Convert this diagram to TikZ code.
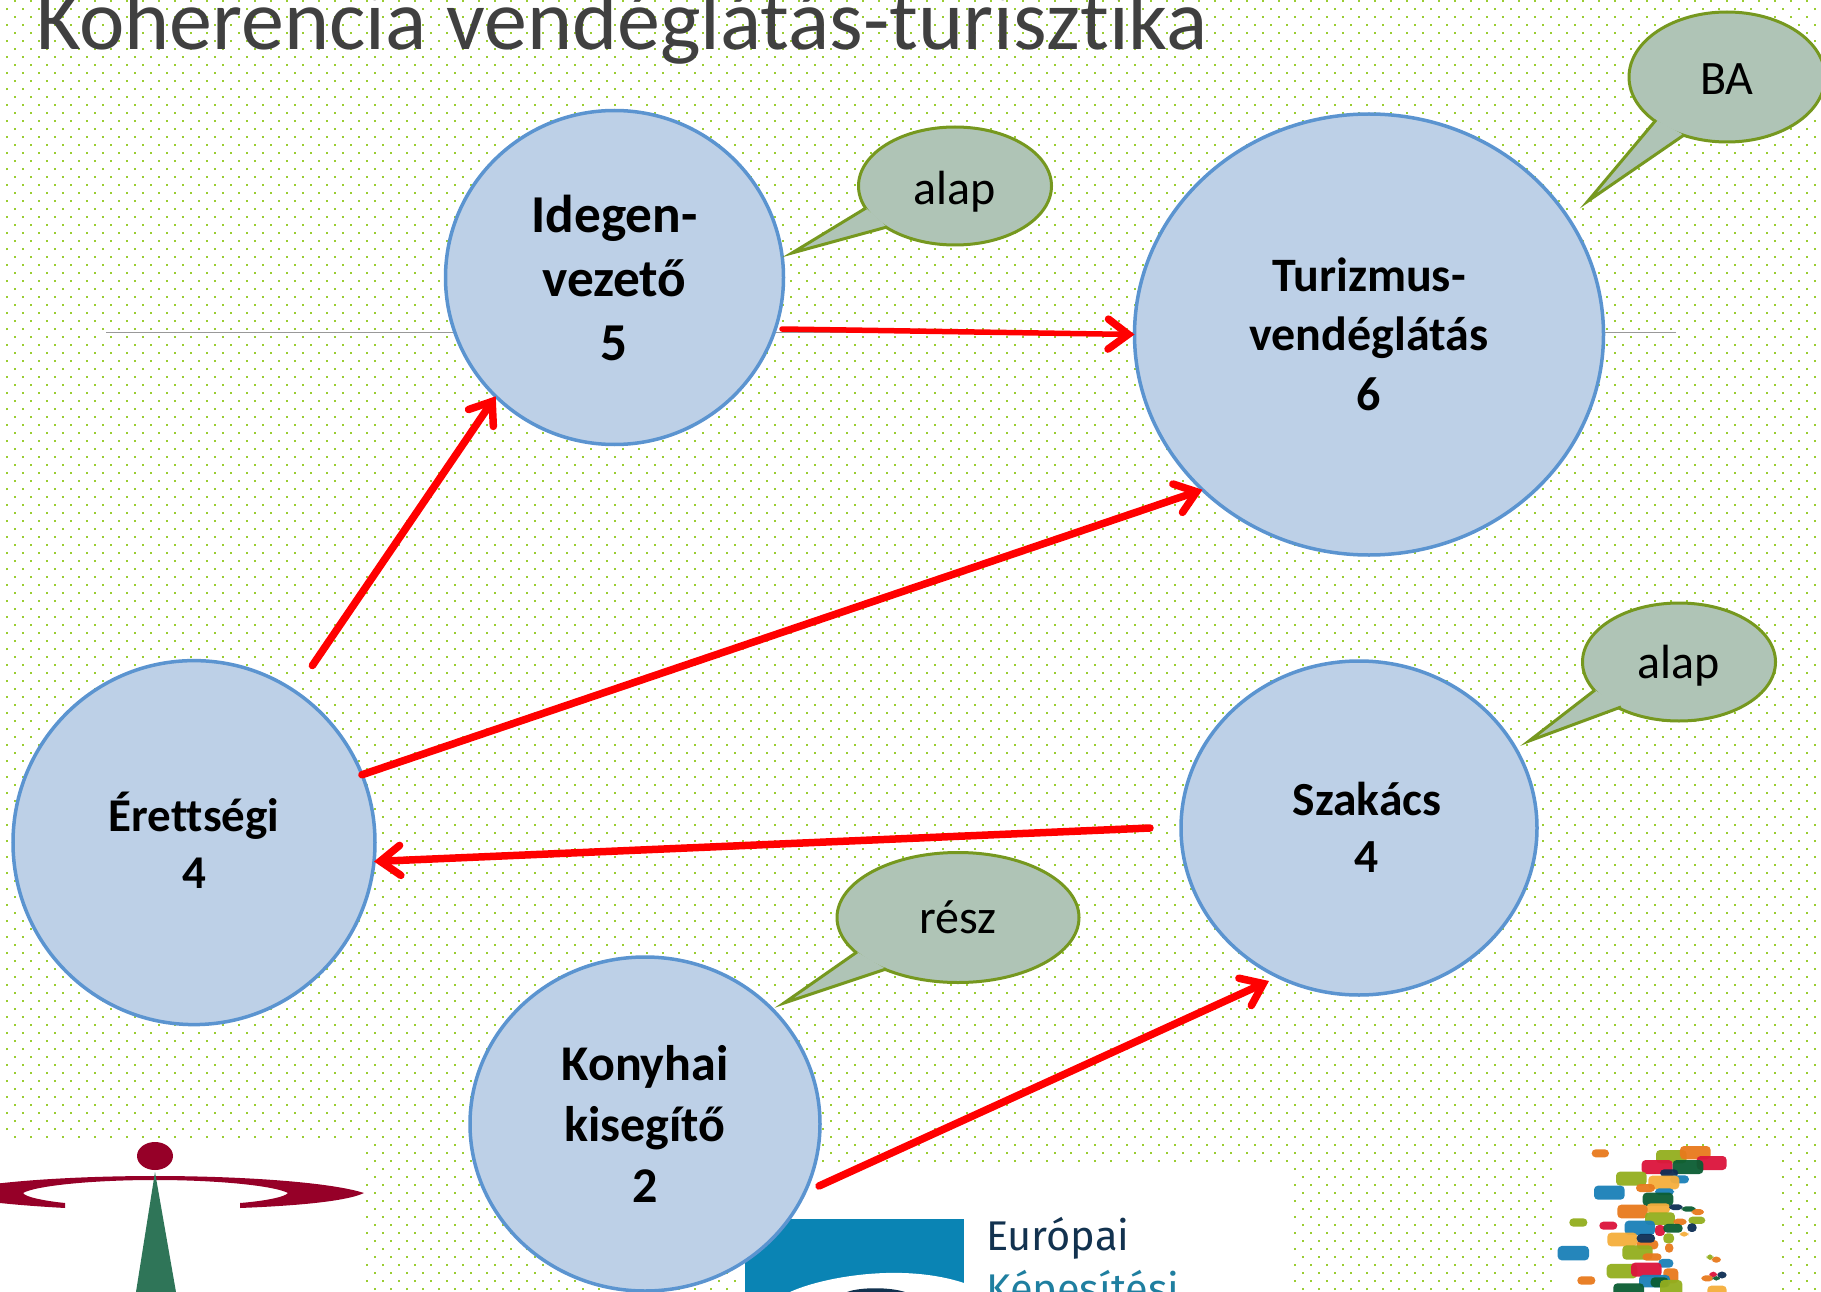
\documentclass[tikz,border=0pt]{standalone}
\usepackage{fontspec}
\setmainfont{Carlito}[Ligatures=NoCommon]
\newfontfamily\logofont{Fira Sans}
\usetikzlibrary{arrows.meta,shapes.geometric}
\definecolor{dotc}{HTML}{9ACD32}
\definecolor{circf}{HTML}{BDD0E7}
\definecolor{circd}{HTML}{5B94D0}
\definecolor{callf}{HTML}{AFC4B6}
\definecolor{calld}{HTML}{76981F}
\definecolor{lgo}{HTML}{E87A1D}
\definecolor{lgl}{HTML}{93AE1E}
\definecolor{lgr}{HTML}{DC143C}
\definecolor{lgg}{HTML}{0B5D33}
\definecolor{lgn}{HTML}{0E2F55}
\definecolor{lgb}{HTML}{1A80B8}
\definecolor{lgy}{HTML}{F5AE3C}
\definecolor{crimson}{RGB}{150,0,40}
\definecolor{pine}{RGB}{47,117,88}
\definecolor{eqfblue}{RGB}{10,132,180}
\definecolor{eqfnavy}{RGB}{18,50,79}
\definecolor{eqfteal}{RGB}{31,127,160}
\tikzset{
  level/.style={ellipse,draw=circd,fill=circf,line width=3.5pt,inner sep=0pt,outer sep=0pt,align=center,text=black},
  call/.style={ellipse,draw=calld,fill=callf,line width=3pt,inner sep=0pt,outer sep=0pt,text=black,font=\fontsize{48pt}{50pt}\selectfont},
  tailfill/.style={fill=callf},
  tailline/.style={draw=calld,line width=3pt,line join=miter},
  link/.style={draw=red,line width=7.5pt,line cap=round,-{Straight Barb[length=20pt,width=30pt,line width=7.5pt,line cap=round,line join=miter]}},
}
\newcommand{\lgbar}[5]{\fill[#5,opacity=.95,rounded corners=4pt] (#1,#2) rectangle (#3,#4);}
\newcommand{\calltail}[3]{%
  \fill[tailfill] (#1) -- (#3) -- (#2) -- cycle;
  \draw[tailline] (#1) -- (#3) -- (#2);}
\newcommand{\nudge}[2]{\raisebox{#1}[\height][\depth]{#2}}
% dot raster built from rules
\newsavebox\dotrowbox
\def\dotA{\rule{2pt}{2pt}\kern14pt}
\def\dotB{\dotA\dotA\dotA\dotA}
\def\dotC{\dotB\dotB\dotB\dotB}
\def\dotD{\dotC\dotC\dotC\dotC\dotC\dotC\dotC\dotC}
\sbox\dotrowbox{\color{dotc}\dotD}
\def\rowP{\hbox{\kern14pt\usebox\dotrowbox}\vskip6pt\hbox{\kern6pt\usebox\dotrowbox}\vskip6pt}
\def\rowQ{\rowP\rowP\rowP\rowP}
\def\rowR{\rowQ\rowQ\rowQ\rowQ}
\def\rowS{\rowR\rowR\rowR\rowR\rowR\rowR}
\begin{document}
\begin{tikzpicture}[x=1pt,y=-1pt]
\useasboundingbox (0,0) rectangle (1821,1292);
\clip (0,0) rectangle (1821,1292);
\fill[white] (0,0) rectangle (1821,1292);
% dot background
\node[anchor=north west,inner sep=0pt,outer sep=0pt] (dotgrid) at (0,0) {\vbox{\offinterlineskip\rowS}};
% title
\node[anchor=base west,inner sep=0pt,text=black!75,font=\fontsize{86pt}{90pt}\selectfont] (title) at (36,50) {Koherencia vendéglátás-turisztika};
% left logo
\fill[white] (0,1142) rectangle (365,1292);
\fill[crimson] (155,1156) ellipse [x radius=18,y radius=14];
\fill[crimson] (364,1193) .. controls (330,1182) and (240,1176) .. (155,1176)
  .. controls (70,1176) and (-20,1182) .. (-54,1193) .. controls (-30,1202) and (30,1206) .. (65,1208)
  -- (65,1203) .. controls (45,1201) and (25,1197) .. (23,1193) .. controls (35,1186) and (90,1180) .. (155,1180)
  .. controls (220,1180) and (275,1186) .. (288,1193) .. controls (285,1197) and (265,1201) .. (240,1203)
  -- (240,1208) .. controls (290,1206) and (345,1202) .. (364,1193) -- cycle;
\fill[pine] (155,1172) -- (176,1292) -- (136,1292) -- cycle;
% centre logo
\fill[white] (740,1163) rectangle (1294,1292);
\fill[eqfblue] (745,1219) rectangle (964,1292);
\fill[white] (790,1292) .. controls (820,1278) and (900,1262) .. (964,1283) -- (964,1292) -- cycle;
\fill[eqfnavy] (847,1292) .. controls (860,1287) and (890,1287) .. (905,1292) -- cycle;
\node[anchor=base west,inner sep=0pt,font=\logofont\fontsize{41.5pt}{44pt}\selectfont,text=eqfnavy] (eur) at (986,1250) {Európai};
\node[anchor=base west,inner sep=0pt,font=\logofont\fontsize{41.5pt}{44pt}\selectfont,text=eqfteal] (kep) at (986,1303) {Képesítési};
% right logo
\fill[white] (1552,1146) rectangle (1782,1292);
\begin{scope}[shift={(1500,1120)},x=0.3333pt,y=-0.3333pt]
\lgbar{275}{88}{327}{112}{lgo}
\lgbar{468}{90}{560}{130}{lgl}
\lgbar{540}{78}{632}{118}{lgo}
\lgbar{425}{120}{518}{162}{lgr}
\lgbar{590}{108}{680}{150}{lgr}
\lgbar{518}{120}{610}{162}{lgg}
\lgbar{480}{148}{535}{170}{lgn}
\lgbar{510}{166}{567}{190}{lgb}
\lgbar{348}{155}{440}{197}{lgl}
\lgbar{445}{167}{538}{208}{lgy}
\lgbar{408}{192}{465}{216}{lgo}
\lgbar{282}{197}{374}{239}{lgb}
\lgbar{465}{205}{522}{225}{lgb}
\lgbar{428}{218}{520}{258}{lgg}
\lgbar{440}{250}{510}{280}{lgy}
\lgbar{352}{254}{443}{295}{lgo}
\lgbar{507}{253}{548}{270}{lgn}
\lgbar{545}{259}{587}{275}{lgg}
\lgbar{575}{267}{612}{285}{lgo}
\lgbar{435}{277}{525}{315}{lgl}
\lgbar{208}{295}{262}{320}{lgl}
\lgbar{298}{305}{352}{329}{lgr}
\lgbar{374}{302}{465}{345}{lgb}
\lgbar{520}{296}{560}{315}{lgo}
\lgbar{565}{290}{616}{312}{lgl}
\lgbar{465}{315}{495}{348}{lgr}
\lgbar{490}{312}{548}{338}{lgg}
\lgbar{562}{310}{590}{336}{lgn}
\lgbar{322}{338}{412}{379}{lgy}
\lgbar{410}{360}{475}{388}{lgo}
\lgbar{410}{342}{465}{368}{lgn}
\lgbar{540}{335}{565}{350}{lgy}
\lgbar{490}{340}{522}{370}{lgl}
\lgbar{495}{370}{520}{398}{lgo}
\lgbar{173}{378}{267}{421}{lgb}
\lgbar{367}{376}{458}{419}{lgl}
\lgbar{427}{400}{485}{422}{lgo}
\lgbar{475}{417}{520}{443}{lgb}
\lgbar{620}{403}{640}{420}{lgl}
\lgbar{635}{410}{663}{428}{lgo}
\lgbar{320}{432}{412}{475}{lgl}
\lgbar{393}{428}{485}{470}{lgr}
\lgbar{490}{445}{535}{490}{lgo}
\lgbar{417}{465}{510}{502}{lgb}
\lgbar{452}{472}{505}{502}{lgg}
\lgbar{232}{469}{286}{494}{lgo}
\lgbar{628}{455}{652}{472}{lgr}
\lgbar{652}{455}{680}{475}{lgn}
\lgbar{604}{466}{640}{484}{lgo}
\lgbar{638}{468}{660}{482}{lgg}
\lgbar{340}{490}{432}{530}{lgg}
\lgbar{480}{480}{547}{530}{lgl}
\lgbar{622}{497}{680}{530}{lgy}
\end{scope}
% horizontal rule
\coordinate (ruleL) at (106,332);
\coordinate (ruleR) at (1676,332);
\draw[black!40,line width=1pt] (ruleL) -- (ruleR);
% level circles
\node[level,minimum width=338pt,minimum height=334pt,font=\bfseries\fontsize{53.3pt}{64pt}\selectfont] (ide) at (614.5,277.5) {Idegen-\\vezető\\5};
\node[level,minimum width=469pt,minimum height=441pt,font=\bfseries\fontsize{48pt}{59pt}\selectfont] (tur) at (1369,334.5) {\nudge{1pt}{Turizmus-}\\\nudge{1pt}{vendéglátás}\\6};
\node[level,minimum width=362pt,minimum height=364pt,font=\bfseries\fontsize{47pt}{57pt}\selectfont] (ere) at (194,842.6) {\nudge{2pt}{Érettségi}\\\nudge{2pt}{4}};
\node[level,minimum width=356pt,minimum height=334pt,font=\bfseries\fontsize{47.5pt}{57pt}\selectfont] (sza) at (1359,828) {\hspace*{16pt}\nudge{1pt}{Szakács}\\\hspace*{16pt}\nudge{1pt}{4}};
\node[level,minimum width=350pt,minimum height=334pt,font=\bfseries\fontsize{50pt}{61pt}\selectfont] (kon) at (645,1124) {Konyhai\\kisegítő\\2};
% connectors
\coordinate (ereOut) at (312.4,665.5);
\coordinate (ideOut) at (782,329);
\coordinate (szaOut) at (1150,828);
\coordinate (konOut) at (819,1186);
\coordinate (szaIn) at (1269,981);
\draw[link] (ereOut) -- (ide.225);
\draw[link,line width=5.5pt] (ideOut) -- (tur.180);
\draw[link] (ere.22) -- (tur.223);
\draw[link] (szaOut) -- (ere.-6);
\draw[link] (konOut) -- (szaIn);
% callouts
\node[call,minimum width=193pt,minimum height=118pt] (c1) at (955,186) {\nudge{-6pt}{alap}};
\coordinate (c1a) at (866,208); \coordinate (c1b) at (887,227); \coordinate (c1t) at (792,253);
\calltail{c1a}{c1b}{c1t}
\node[call,minimum width=196pt,minimum height=130pt] (c2) at (1727,77) {\nudge{-2pt}{BA}};
\coordinate (c2a) at (1656,120); \coordinate (c2b) at (1684,135); \coordinate (c2t) at (1588,201);
\calltail{c2a}{c2b}{c2t}
\node[call,minimum width=193pt,minimum height=118pt] (c3) at (1679,662) {\nudge{-4pt}{alap}};
\coordinate (c3a) at (1595,690); \coordinate (c3b) at (1621,707); \coordinate (c3t) at (1529,741);
\calltail{c3a}{c3b}{c3t}
\node[call,minimum width=242pt,minimum height=130pt] (c4) at (958,917.5) {rész};
\coordinate (c4a) at (857,952); \coordinate (c4b) at (886,969); \coordinate (c4t) at (784,1003);
\calltail{c4a}{c4b}{c4t}
\end{tikzpicture}
\end{document}
